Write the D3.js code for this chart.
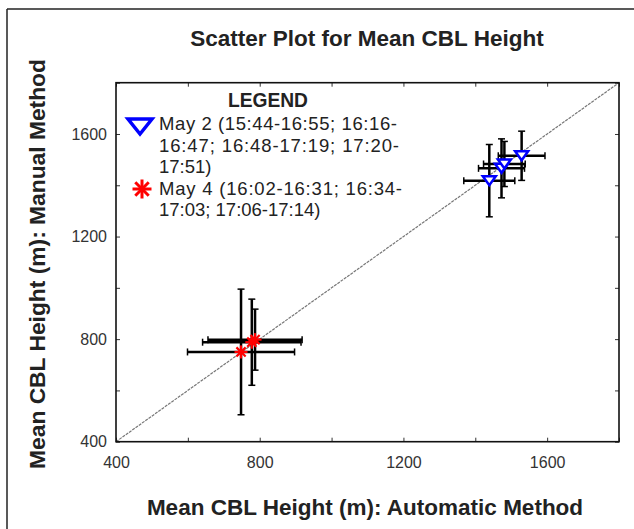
<!DOCTYPE html>
<html><head><meta charset="utf-8">
<script src="https://cdn.jsdelivr.net/npm/d3@7"></script>
<style>
body{margin:0;background:#fff;}
text{font-family:"Liberation Sans",Arial,sans-serif;}
</style></head>
<body><svg id="c" width="634" height="529"></svg>
<script>
const may2X = [1439, 1473, 1481, 1529];
const may2Y = [1418, 1466, 1483, 1515];
const may2XErr = [71, 64, 58, 65];
const may2YErr = [141, 115, 88, 96];
const may4X = [748, 778, 787];
const may4Y = [750, 788, 798];
const may4XErr = [149, 137, 131];
const may4YErr = [245, 168, 119];
const tickValues = [400, 600, 800, 1000, 1200, 1400, 1600, 1800];
const labeledTicks = [400, 800, 1200, 1600];
const legendLines2 = ["May 2 (15:44-16:55; 16:16-", "16:47; 16:48-17:19; 17:20-", "17:51)"];
const legendLines4 = ["May 4 (16:02-16:31; 16:34-", "17:03; 17:06-17:14)"];

const svg = d3.select("#c");
const x = d3.scaleLinear().domain([400, 1800]).range([116, 619]);
const y = d3.scaleLinear().domain([400, 1800]).range([441.7, 82.7]);

// outer frame (top & left)
svg.append("line").attr("x1",7).attr("y1",9).attr("x2",634).attr("y2",9).attr("stroke","#222").attr("stroke-width",1.5);
svg.append("line").attr("x1",7).attr("y1",9).attr("x2",7).attr("y2",529).attr("stroke","#222").attr("stroke-width",1.5);

// title
svg.append("text").attr("x",367).attr("y",46).attr("text-anchor","middle")
  .attr("font-size",22.5).attr("font-weight","bold").attr("fill","#222")
  .text("Scatter Plot for Mean CBL Height");

// diagonal 1:1 line
svg.append("line").attr("x1",x(400)).attr("y1",y(400)).attr("x2",x(1800)).attr("y2",y(1800))
  .attr("stroke","#777").attr("stroke-width",1.2).attr("stroke-dasharray","3,1");

const fmt = d => labeledTicks.includes(d) ? d : "";
function styleAxis(g){
  g.select(".domain").remove();
  g.selectAll(".tick line").attr("stroke","#333").attr("stroke-width",1);
  g.selectAll(".tick text").attr("font-size",16).attr("fill","#333").attr("font-family","Liberation Sans, Arial, sans-serif");
}
svg.append("g").attr("transform",`translate(0,${y(400)})`)
  .call(d3.axisBottom(x).tickValues(tickValues).tickSize(-4).tickPadding(15).tickFormat(fmt)).call(styleAxis);
svg.append("g").attr("transform",`translate(0,${y(1800)})`)
  .call(d3.axisTop(x).tickValues(tickValues).tickSize(-4).tickFormat("")).call(styleAxis);
svg.append("g").attr("transform",`translate(${x(400)},0)`)
  .call(d3.axisLeft(y).tickValues(tickValues).tickSize(-4).tickPadding(9).tickFormat(fmt)).call(styleAxis);
svg.append("g").attr("transform",`translate(${x(1800)},0)`)
  .call(d3.axisRight(y).tickValues(tickValues).tickSize(-4).tickFormat("")).call(styleAxis);

// plot box
svg.append("rect").attr("x",x(400)).attr("y",y(1800)).attr("width",x(1800)-x(400)).attr("height",y(400)-y(1800))
  .attr("fill","none").attr("stroke","#111").attr("stroke-width",1.6);

// axis labels
svg.append("text").attr("x",365).attr("y",515).attr("text-anchor","middle")
  .attr("font-size",22.5).attr("font-weight","bold").attr("fill","#222")
  .text("Mean CBL Height (m): Automatic Method");
svg.append("text").attr("transform","translate(45,264) rotate(-90)").attr("text-anchor","middle")
  .attr("font-size",22.8).attr("font-weight","bold").attr("fill","#222")
  .text("Mean CBL Height (m): Manual Method");

// error bars
function errorBars(xs, ys, xe, ye){
  const g = svg.append("g").attr("stroke","#000").attr("stroke-width",2.5);
  const cap = 3.5;
  xs.forEach((xv,i)=>{
    const yv = ys[i];
    const cx = x(xv), cy = y(yv);
    const y1 = y(yv + ye[i]), y2 = y(yv - ye[i]);
    const x1 = x(xv - xe[i]), x2 = x(xv + xe[i]);
    g.append("line").attr("x1",cx).attr("x2",cx).attr("y1",y1).attr("y2",y2);
    g.append("line").attr("x1",cx-cap).attr("x2",cx+cap).attr("y1",y1).attr("y2",y1).attr("stroke-width",1.5);
    g.append("line").attr("x1",cx-cap).attr("x2",cx+cap).attr("y1",y2).attr("y2",y2).attr("stroke-width",1.5);
    g.append("line").attr("x1",x1).attr("x2",x2).attr("y1",cy).attr("y2",cy);
    g.append("line").attr("x1",x1).attr("x2",x1).attr("y1",cy-cap).attr("y2",cy+cap).attr("stroke-width",1.5);
    g.append("line").attr("x1",x2).attr("x2",x2).attr("y1",cy-cap).attr("y2",cy+cap).attr("stroke-width",1.5);
  });
}
errorBars(may2X, may2Y, may2XErr, may2YErr);
errorBars(may4X, may4Y, may4XErr, may4YErr);

// markers
function triangle(cx, cy, w, h, sw){
  svg.append("path").attr("d",`M${cx-w/2},${cy-h/2}L${cx+w/2},${cy-h/2}L${cx},${cy+h/2}Z`)
    .attr("fill","#fff").attr("stroke","#0000ff").attr("stroke-width",sw).attr("stroke-linejoin","miter");
}
function asterisk(cx, cy, r, sw){
  const g = svg.append("g").attr("stroke","#ff0000").attr("stroke-width",sw);
  [0,45,90,135].forEach(a=>{
    const rad = a*Math.PI/180, dx = r*Math.cos(rad), dy = r*Math.sin(rad);
    g.append("line").attr("x1",cx-dx).attr("y1",cy-dy).attr("x2",cx+dx).attr("y2",cy+dy);
  });
}
may2X.forEach((xv,i)=>triangle(x(xv), y(may2Y[i]), 13, 9, 2.5));
may4X.forEach((xv,i)=>asterisk(x(xv), y(may4Y[i]), 6.5, 2.2));

// legend
svg.append("text").attr("x",228).attr("y",106.5).attr("font-size",20.5).attr("font-weight","bold")
  .attr("fill","#222").attr("textLength",80).attr("lengthAdjust","spacingAndGlyphs").text("LEGEND");
triangle(140, 126.5, 24, 15, 3.5);
asterisk(142, 189, 9.5, 3);
const lw2 = [238, 240, null];
legendLines2.forEach((t,i)=>{
  const el = svg.append("text").attr("x",159).attr("y",130 + i*21.6).attr("font-size",18.5).attr("fill","#222").text(t);
  if (lw2[i]) el.attr("textLength",lw2[i]).attr("lengthAdjust","spacing");
});
const lw4 = [243, null];
legendLines4.forEach((t,i)=>{
  const el = svg.append("text").attr("x",159).attr("y",195 + i*21.2).attr("font-size",18.5).attr("fill","#222").text(t);
  if (lw4[i]) el.attr("textLength",lw4[i]).attr("lengthAdjust","spacing");
});
</script></body></html>
